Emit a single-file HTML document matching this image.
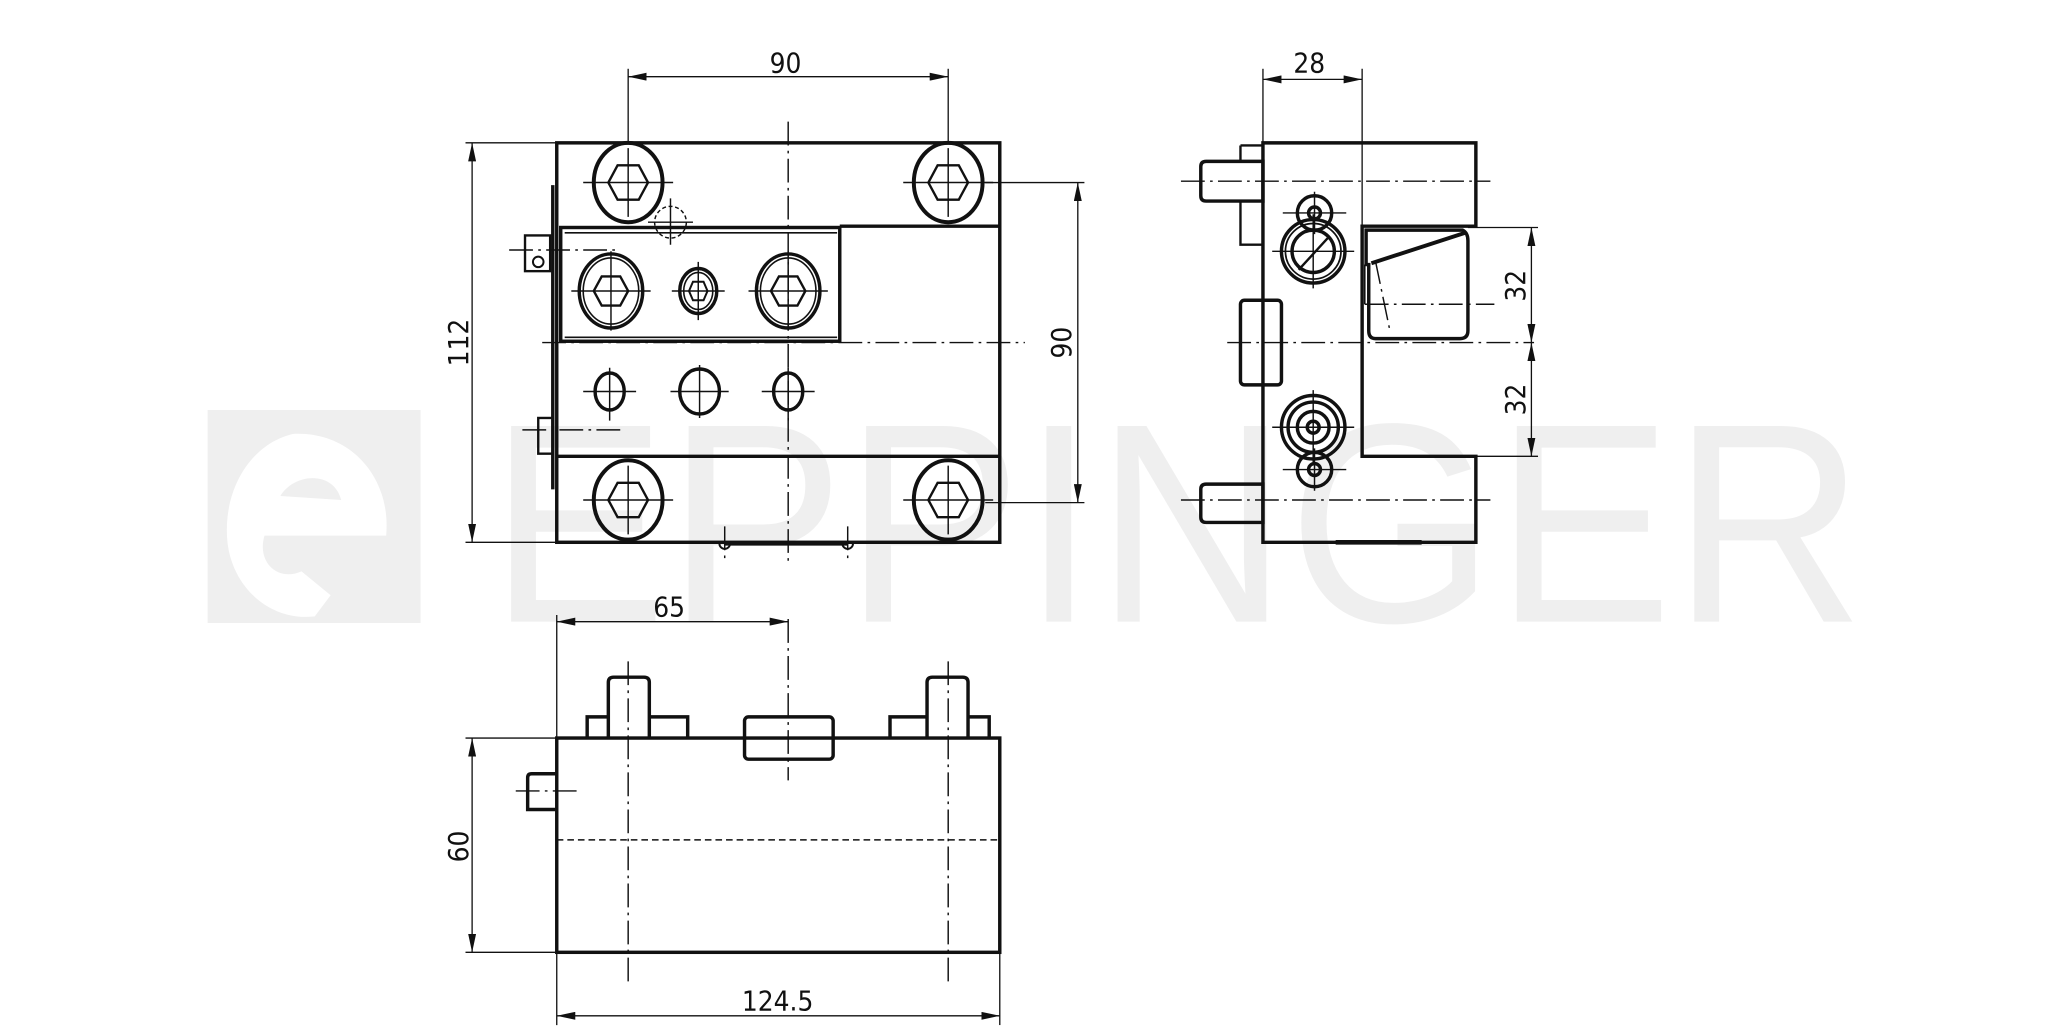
<!DOCTYPE html>
<html><head><meta charset="utf-8"><style>
html,body{margin:0;padding:0;background:#fff;}
svg{display:block;}
text{font-family:"DejaVu Sans Condensed","Liberation Sans Narrow","Liberation Sans",sans-serif;fill:#111;}
</style></head><body>
<svg width="2067" height="1033" viewBox="0 0 1563 781" preserveAspectRatio="none" xmlns="http://www.w3.org/2000/svg">
<defs>
<marker id="a" viewBox="0 0 14 6" refX="14" refY="3" markerWidth="14" markerHeight="6" orient="auto-start-reverse" markerUnits="userSpaceOnUse"><path d="M0,0L14,3L0,6z" fill="#111"/></marker>
</defs>
<!-- watermark -->
<rect x="157" y="310" width="161" height="161" fill="#efefef"/>
<path d="M222,328 C190,335 168,370 172,410 C176,445 205,470 238,466 L250,450 L228,432 C210,440 194,425 200,405 L292,405 C296,362 266,326 222,328 Z M212,375 C222,358 252,355 258,378 Z" fill="#fff" fill-rule="evenodd"/>
<text x="370" y="470" font-size="215" textLength="1040" lengthAdjust="spacingAndGlyphs" style="fill:#efefef;font-family:'Liberation Sans',sans-serif">EPPINGER</text>

<g fill="none" stroke="#111" stroke-width="2.6">
<!-- FRONT VIEW -->
<rect x="421" y="108" width="335" height="302"/>
<line x1="635" y1="171" x2="756" y2="171"/>
<line x1="421" y1="345" x2="756" y2="345"/>
<rect x="424" y="172" width="211" height="86"/>
<line x1="427" y1="176" x2="633" y2="176" stroke-width="1.2"/>
<line x1="427" y1="255" x2="633" y2="255" stroke-width="1.2"/>
<line x1="418" y1="140" x2="418" y2="370"/>
<rect x="397" y="178" width="19" height="27" stroke-width="1.8"/>
<circle cx="407" cy="198" r="4" stroke-width="1.5"/>
<rect x="407" y="316" width="11" height="27" stroke-width="1.8"/>
<!-- bolts -->
<ellipse cx="475" cy="138" rx="26" ry="30" stroke-width="3"/>
<polygon points="460,138 467,125 483,125 490,138 483,151 467,151" stroke-width="1.8"/>
<ellipse cx="717" cy="138" rx="26" ry="30" stroke-width="3"/><polygon points="702,138 709,125 725,125 732,138 725,151 709,151" stroke-width="1.8"/>
<ellipse cx="475" cy="378" rx="26" ry="30" stroke-width="3"/><polygon points="460,378 467,365 483,365 490,378 483,391 467,391" stroke-width="1.8"/>
<ellipse cx="717" cy="378" rx="26" ry="30" stroke-width="3"/><polygon points="702,378 709,365 725,365 732,378 725,391 709,391" stroke-width="1.8"/>
<ellipse cx="462" cy="220" rx="24" ry="28"/><ellipse cx="462" cy="220" rx="21" ry="25" stroke-width="1.2"/>
<polygon points="449,220 455,209 469,209 475,220 469,231 455,231" stroke-width="1.8"/>
<ellipse cx="596" cy="220" rx="24" ry="28"/><ellipse cx="596" cy="220" rx="21" ry="25" stroke-width="1.2"/>
<polygon points="583,220 589,209 603,209 609,220 603,231 589,231" stroke-width="1.8"/>
<ellipse cx="528" cy="220" rx="14" ry="17"/><ellipse cx="528" cy="220" rx="11" ry="14" stroke-width="1.2"/>
<polygon points="521,220 524,213 532,213 535,220 532,227 524,227" stroke-width="1.5"/>
<ellipse cx="461" cy="296" rx="11" ry="14"/>
<ellipse cx="529" cy="296" rx="15" ry="17"/>
<ellipse cx="596" cy="296" rx="11" ry="14"/>
<line x1="548" y1="411" x2="641" y2="411" stroke-width="3"/>
<path d="M544,411 a4,4 0 0 0 8,0 M637,411 a4,4 0 0 0 8,0" stroke-width="1.5"/>

<!-- SIDE VIEW -->
<path d="M955,108 H1116 V171 H1030 V345 H1116 V410 H955 Z"/>
<path d="M1033,174 H1106 Q1110,176 1110,182 V250 Q1110,256 1104,256 H1040 Q1035,256 1035,250 V200 H1033 Z"/>
<line x1="1037" y1="199" x2="1108" y2="176" stroke-width="3"/>
<path d="M1032,200 V230" stroke-width="1.2"/>
<path d="M912,122 H955 V152 H912 Q908,152 908,148 V126 Q908,122 912,122 Z"/>
<path d="M938,110 H955 M938,110 V122 M938,152 V185 H955" stroke-width="1.8"/>
<path d="M912,366 H955 V395 H912 Q908,395 908,391 V370 Q908,366 912,366 Z"/>
<rect x="938" y="227" width="31" height="64" rx="3"/>
<circle cx="994" cy="161" r="13"/><circle cx="994" cy="161" r="4.5"/>
<circle cx="993" cy="190" r="24"/><circle cx="993" cy="190" r="21" stroke-width="1.3"/><circle cx="993" cy="190" r="16"/>
<line x1="982" y1="204" x2="1004" y2="180" stroke-width="1.8"/>
<circle cx="993" cy="323" r="24"/><circle cx="993" cy="323" r="19"/><circle cx="993" cy="323" r="12"/><circle cx="993" cy="323" r="4.5"/>
<circle cx="994" cy="355" r="13"/><circle cx="994" cy="355" r="4.5"/>
<line x1="1010" y1="410" x2="1075" y2="410" stroke-width="3.5"/>

<!-- BOTTOM VIEW -->
<rect x="421" y="558" width="335" height="162"/>
<path d="M444,558 V542 H460 M491,542 H520 V558"/>
<path d="M460,558 V516 Q460,512 464,512 H487 Q491,512 491,516 V558"/>
<path d="M673,558 V542 H701 M732,542 H748 V558"/>
<path d="M701,558 V516 Q701,512 705,512 H728 Q732,512 732,516 V558"/>
<rect x="563" y="542" width="67" height="32" rx="3"/>
<path d="M421,585 H402 Q399,585 399,588 V612 H421"/>
</g>

<!-- thin center/hidden lines -->
<g fill="none" stroke="#111" stroke-width="1.1">
<g stroke-dasharray="18,4,2,4">
<line x1="596" y1="92" x2="596" y2="425"/>
<line x1="410" y1="259" x2="775" y2="259"/>
<line x1="893" y1="137" x2="1127" y2="137"/>
<line x1="893" y1="378" x2="1127" y2="378"/>
<line x1="928" y1="259" x2="1160" y2="259"/>
<line x1="1032" y1="230" x2="1130" y2="230"/>
<line x1="385" y1="189" x2="465" y2="189"/>
<line x1="395" y1="325" x2="470" y2="325"/>
<line x1="390" y1="598" x2="440" y2="598"/>
<line x1="475" y1="500" x2="475" y2="745"/>
<line x1="717" y1="500" x2="717" y2="745"/>
<line x1="596" y1="468" x2="596" y2="590"/>
<line x1="548" y1="398" x2="548" y2="422"/>
<line x1="641" y1="398" x2="641" y2="422"/>
<line x1="1040" y1="197" x2="1051" y2="250"/>
</g>
<line x1="421" y1="635" x2="756" y2="635" stroke-dasharray="5,3"/>
<circle cx="507" cy="168" r="12" stroke-dasharray="3,2"/>
<path d="M441,138H509M475,112V164 M683,138H751M717,112V164 M441,378H509M475,352V404 M683,378H751M717,352V404
M432,220H492M462,190V250 M508,220H548M528,198V242 M566,220H626M596,190V250
M441,296H481M461,278V318 M507,296H551M529,276V316 M576,296H616M596,278V318
M490,168H524M507,150V185
M970,161H1018M994,145V177 M962,190H1024M993,162V218 M962,323H1024M993,295V351 M970,355H1018M994,339V371"/>
</g>

<!-- dimensions -->
<g fill="none" stroke="#111" stroke-width="1">
<line x1="475" y1="52" x2="475" y2="108"/><line x1="717" y1="52" x2="717" y2="108"/>
<line x1="475" y1="58" x2="717" y2="58" marker-start="url(#a)" marker-end="url(#a)"/>
<line x1="352" y1="108" x2="421" y2="108"/><line x1="352" y1="410" x2="421" y2="410"/>
<line x1="357" y1="108" x2="357" y2="410" marker-start="url(#a)" marker-end="url(#a)"/>
<line x1="745" y1="138" x2="820" y2="138"/><line x1="745" y1="380" x2="820" y2="380"/>
<line x1="815" y1="138" x2="815" y2="380" marker-start="url(#a)" marker-end="url(#a)"/>
<line x1="955" y1="52" x2="955" y2="108"/><line x1="1030" y1="52" x2="1030" y2="171"/>
<line x1="955" y1="60" x2="1030" y2="60" marker-start="url(#a)" marker-end="url(#a)"/>
<line x1="1110" y1="172" x2="1163" y2="172"/><line x1="1110" y1="345" x2="1163" y2="345"/>
<line x1="1158" y1="172" x2="1158" y2="259" marker-start="url(#a)" marker-end="url(#a)"/>
<line x1="1158" y1="259" x2="1158" y2="345" marker-start="url(#a)" marker-end="url(#a)"/>
<line x1="421" y1="465" x2="421" y2="775"/><line x1="756" y1="720" x2="756" y2="775"/>
<line x1="421" y1="470" x2="596" y2="470" marker-start="url(#a)" marker-end="url(#a)"/>
<line x1="352" y1="558" x2="421" y2="558"/><line x1="352" y1="720" x2="421" y2="720"/>
<line x1="357" y1="558" x2="357" y2="720" marker-start="url(#a)" marker-end="url(#a)"/>
<line x1="421" y1="768" x2="756" y2="768" marker-start="url(#a)" marker-end="url(#a)"/>
</g>
<g font-size="21">
<text x="594" y="55" text-anchor="middle">90</text>
<text x="990" y="55" text-anchor="middle">28</text>
<text x="506" y="466" text-anchor="middle">65</text>
<text x="588" y="764" text-anchor="middle">124.5</text>
<text transform="translate(354,259) rotate(-90)" text-anchor="middle">112</text>
<text transform="translate(810,259) rotate(-90)" text-anchor="middle">90</text>
<text transform="translate(354,640) rotate(-90)" text-anchor="middle">60</text>
<text transform="translate(1153,216) rotate(-90)" text-anchor="middle">32</text>
<text transform="translate(1153,302) rotate(-90)" text-anchor="middle">32</text>
</g>
</svg>
</body></html>
